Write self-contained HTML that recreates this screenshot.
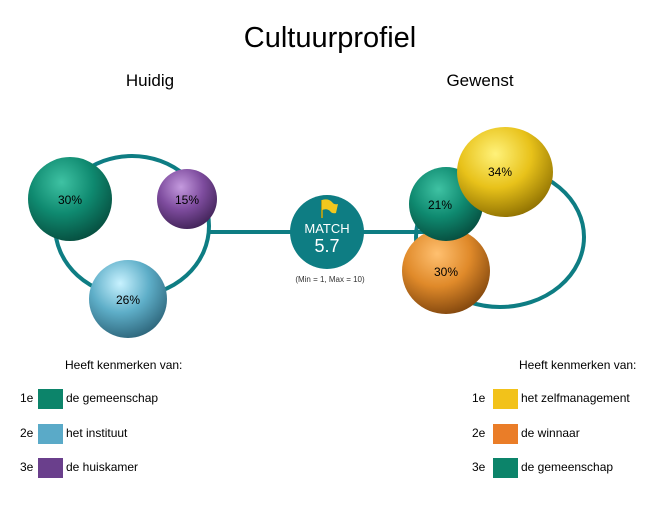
<!DOCTYPE html>
<html><head><meta charset="utf-8"><style>
body{margin:0;background:#fff;}
svg text{font-family:"Liberation Sans",sans-serif;}
</style></head><body>
<svg width="660" height="500" viewBox="0 0 660 500" xmlns="http://www.w3.org/2000/svg">
<defs>
<radialGradient id="gT" cx="0.4" cy="0.3" r="0.75"><stop offset="0" stop-color="#3fc2a3"/><stop offset="0.5" stop-color="#0f8a70"/><stop offset="1" stop-color="#064a3c"/></radialGradient>
<radialGradient id="gP" cx="0.4" cy="0.3" r="0.75"><stop offset="0" stop-color="#c49ade"/><stop offset="0.5" stop-color="#7e4c9e"/><stop offset="1" stop-color="#3e2154"/></radialGradient>
<radialGradient id="gB" cx="0.4" cy="0.3" r="0.75"><stop offset="0" stop-color="#c8f2ff"/><stop offset="0.5" stop-color="#5eaec8"/><stop offset="1" stop-color="#2b6277"/></radialGradient>
<radialGradient id="gY" cx="0.4" cy="0.3" r="0.75"><stop offset="0" stop-color="#fff27a"/><stop offset="0.5" stop-color="#e8c21a"/><stop offset="1" stop-color="#8a6c00"/></radialGradient>
<radialGradient id="gO" cx="0.4" cy="0.3" r="0.75"><stop offset="0" stop-color="#ffc070"/><stop offset="0.5" stop-color="#e08a2a"/><stop offset="1" stop-color="#7d430c"/></radialGradient>
</defs>
<text x="330" y="47" font-size="29" text-anchor="middle" fill="#000">Cultuurprofiel</text>
<text x="150" y="86" font-size="17" text-anchor="middle">Huidig</text>
<text x="480" y="86" font-size="17" text-anchor="middle">Gewenst</text>

<ellipse cx="132" cy="226" rx="77" ry="70" fill="none" stroke="#0e7d83" stroke-width="4"/>
<ellipse cx="500" cy="237" rx="84" ry="70" fill="none" stroke="#0e7d83" stroke-width="4"/>
<line x1="208" y1="232" x2="430" y2="232" stroke="#0e7d83" stroke-width="4"/>

<ellipse cx="70" cy="199" rx="42" ry="42" fill="url(#gT)"/>
<text x="70" y="204" font-size="12" text-anchor="middle">30%</text>
<ellipse cx="187" cy="199" rx="30" ry="30" fill="url(#gP)"/>
<text x="187" y="204" font-size="12" text-anchor="middle">15%</text>
<ellipse cx="128" cy="299" rx="39" ry="39" fill="url(#gB)"/>
<text x="128" y="304" font-size="12" text-anchor="middle">26%</text>

<circle cx="327" cy="232" r="37" fill="#0e7d83"/>
<line x1="322" y1="200" x2="322" y2="218" stroke="#d9a800" stroke-width="1.5"/>
<path d="M322 200 Q328 198 332 202 Q334 205 338 204 L336 213 Q332 214 330 211 Q327 208 322 210 Z" fill="#f2c81e"/>
<text x="327" y="233" font-size="13" text-anchor="middle" fill="#fff">MATCH</text>
<text x="327" y="252" font-size="18" text-anchor="middle" fill="#fff">5.7</text>
<text x="330" y="282" font-size="8" text-anchor="middle" fill="#333">(Min = 1, Max = 10)</text>

<ellipse cx="446" cy="271" rx="44" ry="43" fill="url(#gO)"/>
<text x="446" y="276" font-size="12" text-anchor="middle">30%</text>
<ellipse cx="446" cy="204" rx="37" ry="37" fill="url(#gT)"/>
<text x="440" y="209" font-size="12" text-anchor="middle">21%</text>
<ellipse cx="505" cy="172" rx="48" ry="45" fill="url(#gY)"/>
<text x="500" y="176" font-size="12" text-anchor="middle">34%</text>

<g font-size="12">
<text x="65" y="369">Heeft kenmerken van:</text>
<text x="20" y="402">1e</text><rect x="38" y="389" width="25" height="20" fill="#0c846a"/><text x="66" y="402">de gemeenschap</text>
<text x="20" y="437">2e</text><rect x="38" y="424" width="25" height="20" fill="#5aaac8"/><text x="66" y="437">het instituut</text>
<text x="20" y="471">3e</text><rect x="38" y="458" width="25" height="20" fill="#6a3f8c"/><text x="66" y="471">de huiskamer</text>

<text x="519" y="369">Heeft kenmerken van:</text>
<text x="472" y="402">1e</text><rect x="493" y="389" width="25" height="20" fill="#f2c21a"/><text x="521" y="402">het zelfmanagement</text>
<text x="472" y="437">2e</text><rect x="493" y="424" width="25" height="20" fill="#ea7d28"/><text x="521" y="437">de winnaar</text>
<text x="472" y="471">3e</text><rect x="493" y="458" width="25" height="20" fill="#0c846a"/><text x="521" y="471">de gemeenschap</text>
</g>
</svg>
</body></html>
